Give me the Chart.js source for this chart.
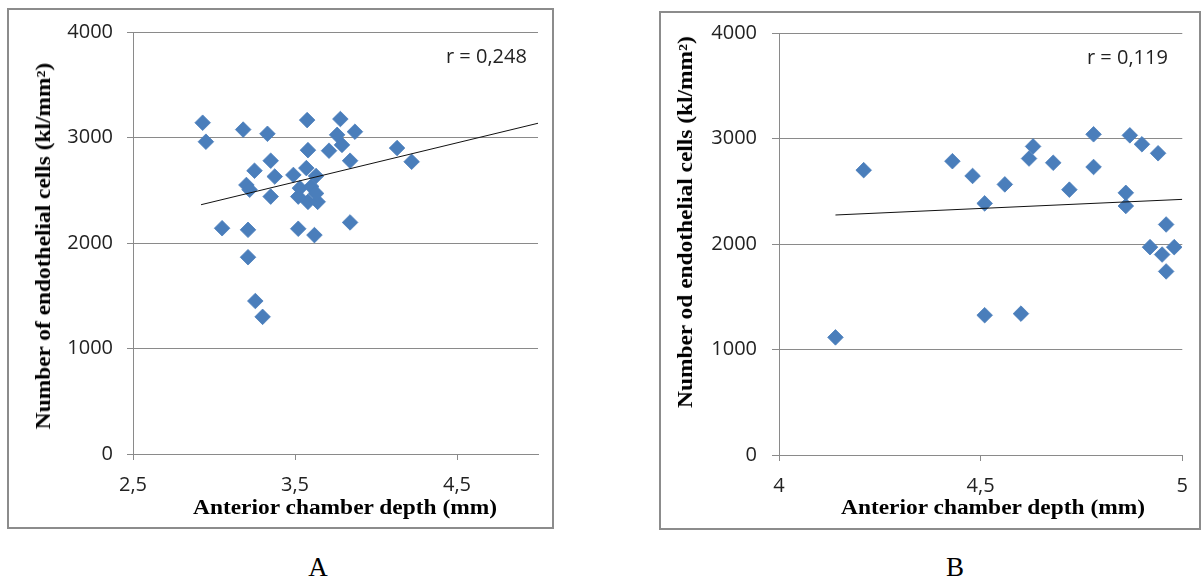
<!DOCTYPE html>
<html>
<head>
<meta charset="utf-8">
<script src="https://cdn.jsdelivr.net/npm/chart.js@4.4.1/dist/chart.umd.min.js"></script>
<style>
  html, body { margin: 0; padding: 0; background: #fff; }
  body { width: 1201px; height: 581px; position: relative; overflow: hidden; }
  .box { position: absolute; box-sizing: border-box; border: 2px solid #8c8c8c; }
  canvas { position: absolute; }
  .t { position: absolute; white-space: nowrap; color: #000; }
  .xt, .yt { font-family: "Liberation Serif", "Times New Roman", serif; font-weight: bold; font-size: 20px; line-height: 20px; }
  .r { font-family: "Open Sans", "Noto Sans", sans-serif; font-size: 20px; line-height: 20px; color: #222; }
  .lab { font-family: "Liberation Serif", "Times New Roman", serif; font-size: 27px; line-height: 27px; }
</style>
</head>
<body>
<div class="box" style="left:7px;top:8px;width:547px;height:521px;"></div>
<div class="box" style="left:659px;top:11px;width:542px;height:519px;"></div>
<canvas id="cA" width="560" height="540" style="left:0;top:0;width:560px;height:540px;"></canvas>
<canvas id="cB" width="561" height="540" style="left:640px;top:0;width:561px;height:540px;"></canvas>

<div class="t r" style="left:446px;top:46px;">r = 0,248</div>
<div class="t r" style="left:1087px;top:47px;">r = 0,119</div>

<div class="t xt" style="left:345px;top:507px;transform:translate(-50%,-50%) scaleX(1.17);">Anterior chamber depth (mm)</div>
<div class="t xt" style="left:993px;top:507px;transform:translate(-50%,-50%) scaleX(1.17);">Anterior chamber depth (mm)</div>
<div class="t yt" style="left:43px;top:246px;transform:translate(-50%,-50%) rotate(-90deg) scaleX(1.17);">Number of endothelial cells (kl/mm²)</div>
<div class="t yt" style="left:685px;top:222px;transform:translate(-50%,-50%) rotate(-90deg) scaleX(1.17);">Number od endothelial cells (kl/mm²)</div>

<div class="t lab" style="left:318px;top:567px;transform:translate(-50%,-50%);">A</div>
<div class="t lab" style="left:955px;top:567px;transform:translate(-50%,-50%);">B</div>

<script>
// ---- Data ----
const depthA = [2.93,2.95,3.18,3.33,3.575,3.78,3.87,3.76,3.79,3.71,3.58,4.13,4.22,3.84,3.35,3.25,3.375,3.20,3.22,3.35,3.49,3.57,3.63,3.53,3.60,3.52,3.58,3.64,3.63,3.05,3.21,3.52,3.62,3.84,3.21,3.255,3.30];
const cellsA = [3140,2960,3075,3035,3165,3175,3055,3025,2930,2875,2880,2900,2770,2780,2780,2685,2630,2550,2505,2440,2645,2710,2635,2520,2535,2440,2390,2390,2470,2140,2125,2135,2075,2195,1865,1450,1300];
const trendXA = [2.92, 5.0];
const trendYA = [2363, 3135];

const depthB = [4.14,4.21,4.43,4.48,4.51,4.56,4.51,4.60,4.63,4.62,4.68,4.72,4.78,4.78,4.87,4.90,4.94,4.86,4.86,4.96,4.92,4.95,4.98,4.96];
const cellsB = [1115,2700,2785,2645,2385,2565,1325,1340,2925,2810,2770,2515,3040,2730,3030,2945,2860,2485,2360,2185,1970,1900,1970,1740];
const trendXB = [4.14, 5.0];
const trendYB = [2275, 2423];

const xTicksA = [2.5, 3.5, 4.5];
const xTicksB = [4, 4.5, 5];
const yTicks = [0, 1000, 2000, 3000, 4000];

// ---- Chart builder ----
const GRID = '#8a8a8a';
const BLUE = '#4a7ebb';
const TICKFONT = { family: '"Open Sans", "Noto Sans", sans-serif', size: 20 };

function pts(xs, ys) { return xs.map((x, i) => ({ x: x, y: ys[i] })); }
function fmt(v) { return String(v).replace('.', ','); }

function makeChart(id, xs, ys, tx, ty, xTicks, xMin, xMax, pad, yTickLen, yPad) {
  new Chart(document.getElementById(id), {
    type: 'scatter',
    data: {
      datasets: [
        {
          data: pts(tx, ty), showLine: true, borderColor: '#111', borderWidth: 1,
          pointRadius: 0, pointHoverRadius: 0, order: 0, fill: false
        },
        {
          data: pts(xs, ys), pointStyle: 'rectRot', pointRadius: 7.8,
          backgroundColor: BLUE, borderColor: BLUE, borderWidth: 0.8, order: 1
        }
      ]
    },
    options: {
      responsive: false, animation: false, devicePixelRatio: 1,
      layout: { padding: pad },
      plugins: { legend: { display: false }, tooltip: { enabled: false } },
      scales: {
        x: {
          type: 'linear', min: xMin, max: xMax,
          afterFit: s => { s.height = 40; },
          afterBuildTicks: s => { s.ticks = xTicks.map(v => ({ value: v })); },
          grid: { drawOnChartArea: false, drawTicks: true, tickLength: 6, color: GRID },
          border: { display: true, color: GRID },
          ticks: { color: '#222', font: TICKFONT, padding: 13, callback: v => fmt(v), maxRotation: 0, autoSkip: false }
        },
        y: {
          type: 'linear', min: 0, max: 4000,
          afterFit: s => { s.width = 70; },
          afterBuildTicks: s => { s.ticks = yTicks.map(v => ({ value: v })); },
          grid: { drawTicks: true, tickLength: yTickLen, color: GRID },
          border: { display: true, color: GRID },
          ticks: { color: '#222', font: TICKFONT, padding: yPad, callback: v => String(v) }
        }
      }
    }
  });
}

makeChart('cA', depthA, cellsA, trendXA, trendYA, xTicksA, 2.5, 5,
  { left: 63, top: 32, right: 22, bottom: 46 }, 6, 14);
makeChart('cB', depthB, cellsB, trendXB, trendYB, xTicksB, 4, 5,
  { left: 69, top: 33, right: 16, bottom: 45 }, 7, 15);
</script>
</body>
</html>
